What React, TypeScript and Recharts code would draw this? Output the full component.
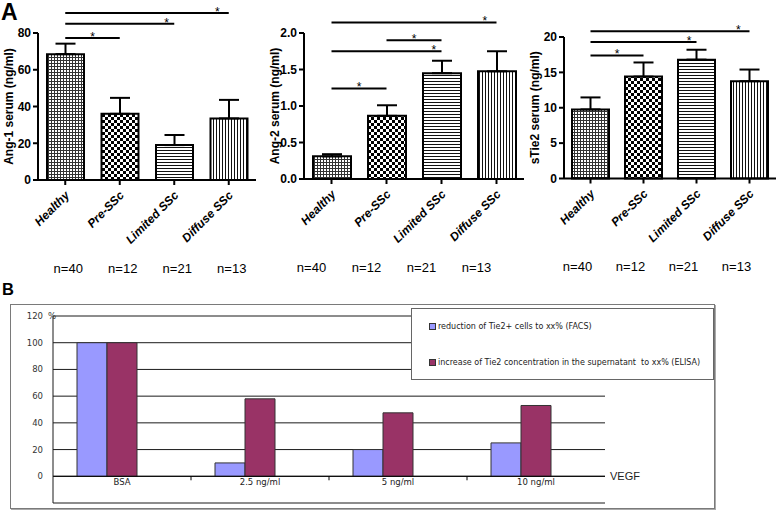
import React from 'react';
import {
  BarChart, Bar, XAxis, YAxis, ErrorBar, Cell, ReferenceLine, ReferenceDot,
  CartesianGrid, Legend,
} from 'recharts';

// ---------- Panel A data ----------
const groups = ['Healthy', 'Pre-SSc', 'Limited SSc', 'Diffuse SSc'];
const groupSizes = ['n=40', 'n=12', 'n=21', 'n=13'];

const ang1Mean = [68.5, 36, 19, 33.5];
const ang1Sem = [5.7, 8.7, 5.5, 10.1];
const ang1Ticks = [0, 20, 40, 60, 80];
const ang1Sig: [string, string, number][] = [
  ['Healthy', 'Pre-SSc', 77.3],
  ['Healthy', 'Limited SSc', 85.1],
  ['Healthy', 'Diffuse SSc', 90.9],
];

const ang2Mean = [0.31, 0.865, 1.45, 1.475];
const ang2Sem = [0.03, 0.145, 0.17, 0.275];
const ang2Ticks = [0, 0.5, 1, 1.5, 2];
const ang2Sig: [string, string, number][] = [
  ['Healthy', 'Pre-SSc', 1.24],
  ['Healthy', 'Limited SSc', 1.75],
  ['Pre-SSc', 'Limited SSc', 1.9],
  ['Healthy', 'Diffuse SSc', 2.145],
];

const tie2Mean = [9.76, 14.4, 16.8, 13.75];
const tie2Sem = [1.7, 2.0, 1.4, 1.65];
const tie2Ticks = [0, 5, 10, 15, 20];
const tie2Sig: [string, string, number][] = [
  ['Healthy', 'Pre-SSc', 17.4],
  ['Healthy', 'Limited SSc', 19.3],
  ['Healthy', 'Diffuse SSc', 20.8],
];

// ---------- Panel B data ----------
const vegfDoses = ['BSA', '2.5 ng/ml', '5 ng/ml', '10 ng/ml'];
const facsReduction = [100, 10, 20, 25];
const elisaIncrease = [100, 58, 47.5, 53];
const percentTicks = [-20, 0, 20, 40, 60, 80, 100, 120];
const seriesNames = [
  'reduction of Tie2+ cells to xx% (FACS)',
  'increase of Tie2 concentration in the supernatant  to xx% (ELISA)',
];
const seriesColors = ['#9999FF', '#993366'];

const ARIAL = '"Liberation Sans", Arial, sans-serif';
const NARROW = '"Liberation Sans Narrow", "Arial Narrow", "Liberation Sans", sans-serif';
const VERDANA = '"DejaVu Sans", Verdana, sans-serif';

function Patterns() {
  return (
    <svg width={0} height={0} style={{ position: 'absolute' }}>
      <defs>
        <pattern id="pat0" width={3} height={3} patternUnits="userSpaceOnUse">
          <rect width={3} height={3} fill="#fff" />
          <rect width={3} height={1} fill="#333" />
          <rect width={1} height={3} fill="#333" />
        </pattern>
        <pattern id="pat1" width={6} height={6} patternUnits="userSpaceOnUse">
          <rect width={6} height={6} fill="#fff" />
          <rect width={3} height={3} fill="#000" />
          <rect x={3} y={3} width={3} height={3} fill="#000" />
        </pattern>
        <pattern id="pat2" width={3} height={3} patternUnits="userSpaceOnUse">
          <rect width={3} height={3} fill="#fff" />
          <rect width={3} height={1} fill="#111" />
        </pattern>
        <pattern id="pat3" width={3} height={3} patternUnits="userSpaceOnUse">
          <rect width={3} height={3} fill="#fff" />
          <rect width={1} height={3} fill="#111" />
        </pattern>
      </defs>
    </svg>
  );
}

function makeGroupTick(nShift: number) {
  return (props: any) => {
    const { x, y, payload, index } = props;
    return (
      <g>
        <g transform={`translate(${x + 5}, ${y + 11}) rotate(-45)`}>
          <text
            x={0}
            y={0}
            textAnchor="end"
            fontFamily={ARIAL}
            fontSize={12}
            fontWeight="bold"
            fontStyle="italic"
            fill="#000"
          >
            {payload.value}
          </text>
        </g>
        <text
          x={x + nShift}
          y={y + 83}
          textAnchor="middle"
          dominantBaseline="central"
          fontFamily={NARROW}
          fontSize={13}
          fill="#000"
        >
          {groupSizes[index]}
        </text>
      </g>
    );
  };
}

function starLabel(p: any, frac: number) {
  const vb = p.viewBox || {};
  const x0 = vb.x1 !== undefined ? Math.min(vb.x1, vb.x2) : vb.x;
  const w = vb.x1 !== undefined ? Math.abs(vb.x2 - vb.x1) : vb.width;
  const y0 = vb.y1 !== undefined ? vb.y1 : vb.y;
  return (
    <text x={x0 + w * frac} y={y0 + 3} textAnchor="middle" fontFamily={ARIAL} fontSize={12} fill="#000" stroke="none">
      *
    </text>
  );
}

type PanelProps = {
  left: number; width: number; title: string; means: number[]; sems: number[];
  ticks: number[]; sig: [string, string, number][]; fmt?: (v: number) => string;
  mTop: number; mBottom: number; mRight: number; barSize: number; labelOffset: number; nShift: number;
  axisWidth: number;
};

function SerumPanel(p: PanelProps) {
  const data = groups.map((g, i) => ({ g, v: p.means[i], e: [0, p.sems[i]] }));
  return (
    <div style={{ position: 'absolute', left: p.left, top: 0 }}>
      <BarChart
        width={p.width}
        height={290}
        data={data}
        margin={{ top: p.mTop, right: p.mRight, bottom: p.mBottom, left: 0 }}
      >
        <XAxis
          dataKey="g"
          height={100}
          interval={0}
          tickSize={5}
          tickMargin={0}
          axisLine={{ stroke: '#000', strokeWidth: 2 }}
          tickLine={{ stroke: '#000', strokeWidth: 2 }}
          tick={makeGroupTick(p.nShift)}
        />
        <YAxis
          width={p.axisWidth}
          domain={[p.ticks[0], p.ticks[p.ticks.length - 1]]}
          ticks={p.ticks}
          tickFormatter={p.fmt}
          tickSize={5}
          tickMargin={2}
          axisLine={{ stroke: '#000', strokeWidth: 2 }}
          tickLine={{ stroke: '#000', strokeWidth: 2 }}
          tick={{ fill: '#000', fontSize: 12, fontWeight: 'bold', fontFamily: ARIAL }}
          label={{
            value: p.title,
            angle: -90,
            position: 'insideLeft',
            offset: p.labelOffset,
            style: { textAnchor: 'middle', fontWeight: 'bold', fontSize: 12, fontFamily: ARIAL, fill: '#000' },
          }}
        />
        <Bar dataKey="v" barSize={p.barSize} stroke="#000" strokeWidth={2} isAnimationActive={false}>
          {data.map((d, i) => (
            <Cell key={d.g} fill={`url(#pat${i})`} />
          ))}
          <ErrorBar dataKey="e" width={10} stroke="#000" strokeWidth={2} direction="y" isAnimationActive={false} />
        </Bar>
        {p.sig.map(([a, b, yv], i) => {
          const span = groups.indexOf(b) - groups.indexOf(a);
          const frac = span === 1 ? 0.5 : 0.93;
          return (
            <ReferenceLine
              key={i}
              segment={[{ x: a, y: yv }, { x: b, y: yv }]}
              ifOverflow="visible"
              stroke="#000"
              strokeWidth={2}
              label={(lp: any) => starLabel(lp, frac)}
            />
          );
        })}
      </BarChart>
    </div>
  );
}

function PercentTick(props: any) {
  const { x, y, payload } = props;
  return (
    <g>
      <text x={x} y={y} dy="0.35em" textAnchor="end" fontFamily={VERDANA} fontSize={8.5} fill="#333">
        {payload.value}
      </text>
      {payload.value === percentTicks[percentTicks.length - 1] && (
        <text x={x + 5} y={y} dy="0.35em" textAnchor="start" fontFamily={VERDANA} fontSize={8.5} fill="#333">
          %
        </text>
      )}
    </g>
  );
}

function BLegend() {
  return (
    <div
      style={{
        width: 303, height: 72, boxSizing: 'border-box', border: '1px solid #666',
        background: '#fff', position: 'relative', fontFamily: VERDANA, fontSize: 8, color: '#222',
      }}
    >
      {seriesNames.map((name, i) => (
        <div
          key={name}
          style={{
            position: 'absolute', left: 17, top: i === 0 ? 12.7 : 48.7, display: 'flex',
            alignItems: 'center', whiteSpace: 'pre', lineHeight: '10px', height: 10,
          }}
        >
          <span
            style={{
              display: 'inline-block', width: 5, height: 5, border: '1px solid #333',
              background: seriesColors[i], marginRight: 2,
            }}
          />
          {name}
        </div>
      ))}
    </div>
  );
}

function PanelB() {
  const data = vegfDoses.map((d, i) => ({ dose: d, facs: facsReduction[i], elisa: elisaIncrease[i], spare: null }));
  return (
    <div
      style={{
        position: 'absolute', left: 10, top: 304, width: 703, height: 203,
        border: '1px solid #7a7a7a', boxShadow: '1px 1px 0 #aaa', background: '#fff',
      }}
    >
      <BarChart
        width={703}
        height={203}
        data={data}
        margin={{ top: 11, right: 109, bottom: 5, left: 0 }}
        barGap={0}
      >
        <CartesianGrid vertical={false} stroke="#1a1a1a" />
        <XAxis dataKey="dose" hide />
        <YAxis
          width={42}
          domain={[-20, 120]}
          ticks={percentTicks}
          tickSize={0}
          tickMargin={10}
          axisLine={{ stroke: '#1a1a1a' }}
          tickLine={false}
          tick={PercentTick}
        />
        <Bar dataKey="facs" barSize={30} fill={seriesColors[0]} stroke="#333" strokeWidth={1} isAnimationActive={false} />
        <Bar dataKey="elisa" barSize={30} fill={seriesColors[1]} stroke="#333" strokeWidth={1} isAnimationActive={false} />
        <Bar dataKey="spare" barSize={30} fill="#fff" isAnimationActive={false} legendType="none" />
        <ReferenceLine
          y={0}
          stroke="#000"
          label={{ value: 'VEGF', position: 'right', offset: 5, fontFamily: ARIAL, fontSize: 11, fill: '#222' }}
        />
        {vegfDoses.slice(1).map((d) => (
          <ReferenceLine
            key={'t' + d}
            segment={[{ x: d, y: 0 }, { x: d, y: -3 }]}
            position="start"
            stroke="#000"
          />
        ))}
        {vegfDoses.map((d) => (
          <ReferenceDot
            key={'l' + d}
            x={d}
            y={0}
            r={0}
            fill="none"
            stroke="none"
            label={{ value: d, position: 'bottom', offset: 3, fontFamily: VERDANA, fontSize: 8.5, fill: '#222' }}
          />
        ))}
        <Legend
          layout="vertical"
          align="center"
          verticalAlign="middle"
          wrapperStyle={{ left: 400, top: 3, width: 303, height: 72 }}
          content={BLegend}
        />
      </BarChart>
    </div>
  );
}

export default function App() {
  return (
    <div style={{ position: 'absolute', left: 0, top: 0, width: 778, height: 511, background: '#fff', overflow: 'hidden' }}>
      <Patterns />
      <SerumPanel
        left={0} width={260} title="Ang-1 serum (ng/ml)" means={ang1Mean} sems={ang1Sem}
        ticks={ang1Ticks} sig={ang1Sig} mTop={33} mBottom={10} mRight={4} barSize={37}
        labelOffset={8.5} nShift={3} axisWidth={38}
      />
      <SerumPanel
        left={260} width={270} title="Ang-2 serum (ng/ml)" means={ang2Mean} sems={ang2Sem}
        ticks={ang2Ticks} sig={ang2Sig} fmt={(v) => v.toFixed(1)} mTop={33} mBottom={11} mRight={6}
        barSize={38} labelOffset={14.5} nShift={-20} axisWidth={44}
      />
      <SerumPanel
        left={520} width={258} title="sTie2 serum (ng/ml)" means={tie2Mean} sems={tie2Sem}
        ticks={tie2Ticks} sig={tie2Sig} mTop={37} mBottom={11.5} mRight={2} barSize={37}
        labelOffset={14.5} nShift={-13} axisWidth={44}
      />
      <PanelB />
      <svg width={778} height={511} style={{ position: 'absolute', left: 0, top: 0, pointerEvents: 'none' }}>
        <text x={1} y={20} fontFamily={ARIAL} fontWeight="bold" fontSize={23} fill="#000">A</text>
        <text x={2} y={295} fontFamily={ARIAL} fontWeight="bold" fontSize={16.5} fill="#000">B</text>
      </svg>
    </div>
  );
}
